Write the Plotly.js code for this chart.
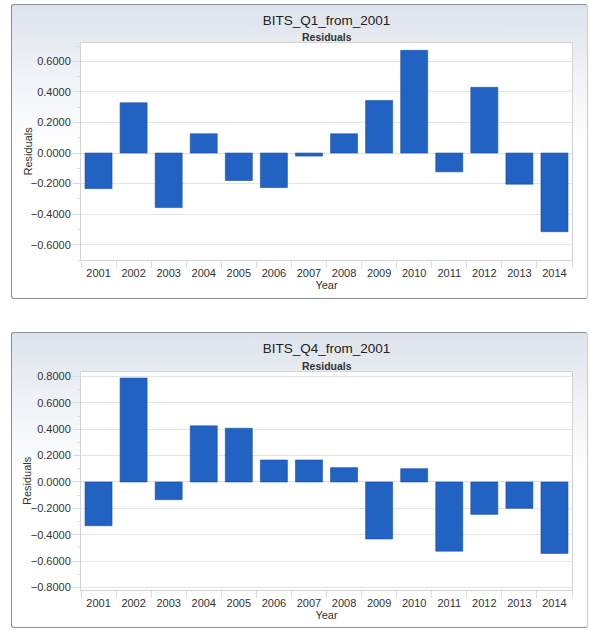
<!DOCTYPE html>
<html>
<head>
<meta charset="utf-8">
<script src="https://cdn.plot.ly/plotly-3.0.1.min.js"></script>
<style>
  html, body { margin: 0; padding: 0; background: #ffffff; width: 590px; height: 630px; overflow: hidden; }
  .panel {
    position: absolute;
    left: 11px;
    width: 577px;
    border: 1px solid #8c9199;
    border-right-color: #c8ccd2;
    border-radius: 3px;
    background: linear-gradient(to bottom, #dde3ec 0%, #eef1f6 22%, #ffffff 50%, #ffffff 100%);
    box-sizing: border-box;
  }
  #p1 { top: 4px; height: 295px; }
  #p2 { top: 332px; height: 296px; }
  .chart { position: absolute; left: 0; top: 0; }
</style>
</head>
<body>
<div class="panel" id="p1"><div class="chart" id="c1"></div></div>
<div class="panel" id="p2"><div class="chart" id="c2"></div></div>
<script>
const years = ['2001','2002','2003','2004','2005','2006','2007','2008','2009','2010','2011','2012','2013','2014'];
const q1Residuals = [-0.233, 0.329, -0.357, 0.126, -0.180, -0.226, -0.020, 0.126, 0.344, 0.672, -0.123, 0.430, -0.204, -0.515];
const q4Residuals = [-0.332, 0.789, -0.134, 0.426, 0.408, 0.167, 0.167, 0.109, -0.433, 0.101, -0.525, -0.246, -0.200, -0.542];
const q1TickVals = [-0.6, -0.4, -0.2, 0, 0.2, 0.4, 0.6];
const q4TickVals = [-0.8, -0.6, -0.4, -0.2, 0, 0.2, 0.4, 0.6, 0.8];
const q1Title = 'BITS_Q1_from_2001';
const q4Title = 'BITS_Q4_from_2001';
const subTitle = 'Residuals';
const xTitle = 'Year';
const yTitle = 'Residuals';

const FONT = 'Arial, "Liberation Sans", sans-serif';

function makeChart(id, values, tickVals, yRange, title, w, h, margin) {
  const trace = {
    type: 'bar',
    x: years,
    y: values,
    marker: { color: '#2162c3', line: { color: '#1a50a8', width: 0.6 } },
    hoverinfo: 'x+y'
  };
  const layout = {
    width: w,
    height: h,
    margin: margin,
    paper_bgcolor: 'rgba(0,0,0,0)',
    plot_bgcolor: '#ffffff',
    bargap: 0.23,
    showlegend: false,
    font: { family: FONT, size: 11, color: '#333333' },
    title: {
      text: title,
      font: { family: FONT, size: 13.5, color: '#222222' },
      xref: 'paper', x: 0.5, xanchor: 'center',
      yref: 'container', y: 1 - 15 / h, yanchor: 'middle'
    },
    annotations: [
      {
        text: '<b>' + subTitle + '</b>',
        xref: 'paper', x: 0.5, xanchor: 'center',
        yref: 'paper', y: 1, yanchor: 'middle', yshift: 6,
        showarrow: false,
        font: { family: FONT, size: 10.5, color: '#333333' }
      },
      {
        text: yTitle,
        xref: 'paper', x: 0, xanchor: 'center', xshift: -54,
        yref: 'paper', y: 0.5, yanchor: 'middle',
        textangle: -90,
        showarrow: false,
        font: { family: FONT, size: 11, color: '#333333' }
      }
    ],
    xaxis: {
      type: 'category',
      range: [-0.5, years.length - 0.5],
      showgrid: false,
      showline: true, linecolor: '#d3d3d3', linewidth: 1, mirror: true,
      ticks: 'outside', ticklen: 7, tickcolor: '#dcdcdc', tickson: 'boundaries',
      ticklabelstandoff: 3,
      tickfont: { family: FONT, size: 11, color: '#333333' },
      title: { text: xTitle, font: { family: FONT, size: 11, color: '#333333' }, standoff: 2 },
      fixedrange: true
    },
    yaxis: {
      range: yRange,
      tickvals: tickVals,
      tickformat: '.4f',
      showgrid: true, gridcolor: '#e4e4e4', gridwidth: 1,
      zeroline: true, zerolinecolor: '#e0e0e0', zerolinewidth: 1,
      showline: true, linecolor: '#d3d3d3', linewidth: 1, mirror: true,
      ticks: 'outside', ticklen: 7, tickcolor: '#dcdcdc',
      minor: { dtick: 0.1, ticks: 'outside', ticklen: 3, tickcolor: '#dcdcdc', showgrid: false },
      tickfont: { family: FONT, size: 11, color: '#333333' },
      fixedrange: true
    }
  };
  Plotly.newPlot(id, [trace], layout, { displayModeBar: false, staticPlot: true });
}

makeChart('c1', q1Residuals, q1TickVals, [-0.70, 0.72], q1Title, 575, 293, { l: 69, r: 15, t: 38, b: 38 });
makeChart('c2', q4Residuals, q4TickVals, [-0.82, 0.835], q4Title, 575, 294, { l: 69, r: 15, t: 39, b: 37 });
</script>
</body>
</html>
